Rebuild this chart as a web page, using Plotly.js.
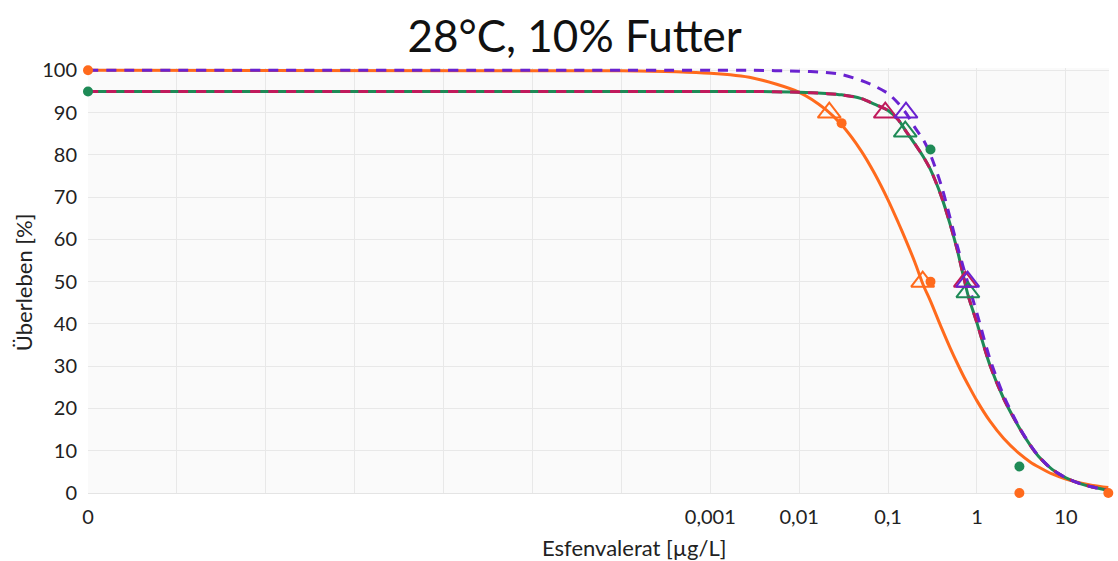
<!DOCTYPE html>
<html>
<head>
<meta charset="utf-8">
<script src="https://cdn.plot.ly/plotly-3.0.1.min.js"></script>
<style>html,body{margin:0;padding:0;background:#fff;}#chart{width:1118px;height:561px;}</style>
</head>
<body>
<div id="chart"></div>
<script>
// Concentration grid for fitted curves (µg/L); "0" is drawn at 1e-10 on the log axis
var curveX = [1e-10, 1e-4, 0.001, 0.003, 0.01, 0.02, 0.03, 0.05, 0.07, 0.1, 0.13, 0.16, 0.2, 0.25, 0.3, 0.4, 0.5, 0.6, 0.7, 0.8, 1, 1.4, 2, 3, 4, 5, 7, 10, 15, 20, 30];
// Curves (% survival)
var orangeCurve = [100, 99.9, 99.3, 98.2, 94.8, 90.7, 87.1, 80.9, 75.7, 69.3, 64, 59.6, 54.6, 49.1, 45.4, 39, 34.3, 30.7, 27.8, 25.5, 21.8, 17, 12.9, 9.3, 7.3, 6.1, 4.5, 3.3, 2.3, 1.8, 1.3];
var greenCurve  = [95, 95, 95, 95, 94.8, 94.5, 94.2, 93.3, 92, 90.5, 88.3, 85.5, 82.6, 79.5, 76.5, 70, 63.5, 57.5, 51.5, 46.5, 40.2, 30.2, 22.3, 15.4, 11.2, 8.5, 5.6, 3.6, 2.1, 1.4, 0.6];
var magentaCurve = [95, 95, 95, 95, 94.8, 94.5, 94.2, 93.3, 92, 90.5, 88.3, 85.5, 82.6, 79.5, 76.5, 70, 63.5, 57.5, 51.5, 46.5, 40.2, 30.2, 22.3, 15.4, 11.2, 8.5, 5.6, 3.6, 2.1, 1.4, 0.6];
var purpleCurve = [100, 100, 100, 100, 99.8, 99.5, 99, 97.6, 96.3, 94.5, 92.2, 89.8, 86.5, 83.5, 80, 72.5, 65, 58.5, 53.5, 49.3, 42.5, 31.7, 23, 15.5, 11.3, 8.6, 5.6, 3.6, 2.1, 1.4, 0.6];

// Observed data points
var orangeObsX = [1e-10, 0.03, 0.3, 3, 30];
var orangeObsY = [100, 87.5, 50, 0, 0];
var greenObsX = [1e-10, 0.3, 3];
var greenObsY = [95, 81.25, 6.25];

// EC10 / EC50 markers
var orangeTriX = [0.0218, 0.245];
var orangeTriY = [90, 50];
var magentaTriX = [0.093, 0.74];
var magentaTriY = [90, 50];
var purpleTriX = [0.159, 0.785];
var purpleTriY = [90, 50];
var greenTriX = [0.156, 0.79];
var greenTriY = [85.5, 47.5];

// Axis ticks
var xTickVals = [1e-10, 1e-9, 1e-8, 1e-7, 1e-6, 1e-5, 1e-4, 0.001, 0.01, 0.1, 1, 10];
var xTickText = ['0', '', '', '', '', '', '', '0,001', '0,01', '0,1', '1', '10'];
var yTickVals = [0, 10, 20, 30, 40, 50, 60, 70, 80, 90, 100];

var ORANGE = '#FF6A1C', GREEN = '#1E8A56', MAGENTA = '#C01A5C', PURPLE = '#6A22D0';
var FONT = 'Lato, "Open Sans", sans-serif';

function curve(y, color, dash) {
  return {x: curveX, y: y, type: 'scatter', mode: 'lines', hoverinfo: 'skip',
    line: {color: color, width: 3, dash: dash, shape: 'spline', smoothing: 0.8}};
}
function dots(x, y, color) {
  return {x: x, y: y, type: 'scatter', mode: 'markers', cliponaxis: false,
    marker: {color: color, size: 10, symbol: 'circle'}};
}
function tris(x, y, color) {
  return {x: x, y: y, type: 'scatter', mode: 'markers', cliponaxis: false,
    marker: {symbol: 'triangle-up-open', size: 20, color: color, line: {color: color, width: 2}}};
}

var data = [
  curve(orangeCurve, ORANGE, 'solid'),
  curve(greenCurve, GREEN, 'solid'),
  curve(magentaCurve, MAGENTA, '10px,8px'),
  curve(purpleCurve, PURPLE, '10px,8px'),
  dots(orangeObsX, orangeObsY, ORANGE),
  dots(greenObsX, greenObsY, GREEN),
  tris(orangeTriX, orangeTriY, ORANGE),
  tris(greenTriX, greenTriY, GREEN),
  tris(magentaTriX, magentaTriY, MAGENTA),
  tris(purpleTriX, purpleTriY, PURPLE)
];

var layout = {
  width: 1118, height: 561,
  margin: {l: 88, r: 9, t: 68, b: 68},
  paper_bgcolor: '#ffffff',
  plot_bgcolor: '#fafafa',
  showlegend: false,
  font: {family: FONT, color: '#222222', size: 20},
  title: {text: '28°C, 10% Futter', font: {family: FONT, size: 44, color: '#111111'},
    x: 0.514, xanchor: 'center', y: 0.935, yanchor: 'middle', xref: 'container', yref: 'container'},
  xaxis: {
    type: 'log', range: [-10, 1.485],
    tickmode: 'array', tickvals: xTickVals, ticktext: xTickText,
    showgrid: true, gridcolor: '#e8e8e8', gridwidth: 1,
    zeroline: false, showline: false, ticks: '',
    ticklabelstandoff: 10,
    tickfont: {family: FONT, size: 20, color: '#222222'}
  },
  yaxis: {
    range: [0, 100.55],
    tickmode: 'array', tickvals: yTickVals,
    showgrid: true, gridcolor: '#e8e8e8', gridwidth: 1,
    zeroline: true, zerolinecolor: '#e4e4e4', zerolinewidth: 1,
    showline: false, ticks: '',
    ticklabelstandoff: 10,
    tickfont: {family: FONT, size: 20, color: '#222222'}
  },
  annotations: [
    {text: 'Esfenvalerat [µg/L]', xref: 'paper', yref: 'paper', x: 0.5355, y: -0.129,
      xanchor: 'center', yanchor: 'middle', showarrow: false, font: {family: FONT, size: 22, color: '#222222'}},
    {text: 'Überleben [%]', xref: 'paper', yref: 'paper', x: -0.0636, y: 0.496, textangle: -90,
      xanchor: 'center', yanchor: 'middle', showarrow: false, font: {family: FONT, size: 22, color: '#222222'}}
  ]
};

Plotly.newPlot('chart', data, layout, {displayModeBar: false, staticPlot: true});
</script>
</body>
</html>
